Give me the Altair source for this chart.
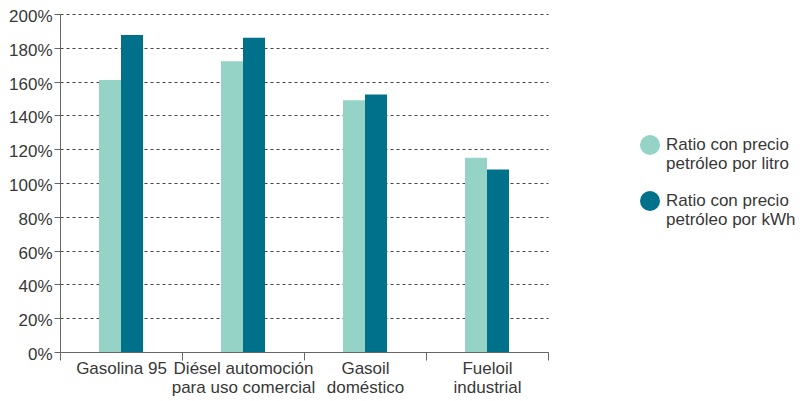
import altair as alt
import pandas as pd

categories = ["Gasolina 95", "Diésel automoción\npara uso comercial", "Gasoil\ndoméstico", "Fueloil\nindustrial"]
series = ["Ratio con precio\npetróleo por litro", "Ratio con precio\npetróleo por kWh"]
litro = [1.61, 1.72, 1.49, 1.15]
kwh = [1.876, 1.86, 1.524, 1.08]
colors = ["#94d3c5", "#00718a"]

rows = []
for c, a, b in zip(categories, litro, kwh):
    rows.append({"cat": c, "serie": series[0], "val": a})
    rows.append({"cat": c, "serie": series[1], "val": b})
df = pd.DataFrame(rows)

font = "Liberation Sans"
txt = "#383838"
fs = 17

bars = alt.Chart(df).mark_bar().encode(
    x=alt.X("cat:N", sort=categories, title=None,
            scale=alt.Scale(paddingInner=0, paddingOuter=0),
            axis=alt.Axis(labelExpr="split(datum.label, '\\n')", labelAngle=0,
                          tickBand="extent", tickSize=8, tickColor="#666666",
                          domainColor="#666666", labelFont=font, labelFontSize=fs,
                          labelColor=txt, labelPadding=0, labelLineHeight=19,
                          labelBaseline="top")),
    xOffset=alt.XOffset("serie:N", sort=series,
                        scale=alt.Scale(paddingInner=0, paddingOuter=0, range=[39, 83])),
    y=alt.Y("val:Q", title=None,
            scale=alt.Scale(domain=[0, 2], nice=False),
            axis=alt.Axis(format="%", values=[i / 10 for i in range(0, 21, 2)],
                          tickSize=6, tickColor="#666666", domainColor="#666666",
                          grid=True, gridDash=[3, 3], gridColor="#444444",
                          labelFont=font, labelFontSize=fs, labelColor=txt,
                          labelPadding=2, labelOffset=2.5)),
    color=alt.Color("serie:N", sort=series, title=None,
                    scale=alt.Scale(domain=series, range=colors),
                    legend=alt.Legend(orient="none", legendX=580, legendY=121,
                                      symbolType="circle", symbolSize=400,
                                      symbolStrokeWidth=0, symbolOpacity=1,
                                      labelExpr="split(datum.label, '\\n')",
                                      labelFont=font, labelFontSize=fs, labelColor=txt,
                                      labelLimit=300, rowPadding=19, labelOffset=6)),
)

chart = bars.properties(
    width=488, height=338,
    autosize=alt.AutoSizeParams(type="none"),
    padding={"left": 52, "top": 6, "right": 253, "bottom": 50},
).configure_view(stroke=None).configure_axis(gridWidth=1)

chart.save("out.html", embed_options={"renderer": "svg", "actions": False})
